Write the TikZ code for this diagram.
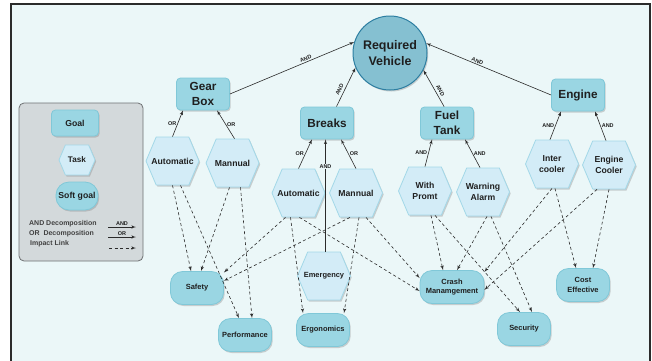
\documentclass[tikz,border=0pt]{standalone}
\usepackage{fontspec}
\setmainfont{Liberation Sans}
\usepackage{tikz}
\usetikzlibrary{arrows}
\usetikzlibrary{calc}
\usetikzlibrary{shapes.symbols}
\usetikzlibrary{shadows}

\definecolor{bg}{HTML}{EBF7F8}
\definecolor{frameline}{HTML}{2B2B2B}
\definecolor{goalfill}{HTML}{9AD6E3}
\definecolor{goalline}{HTML}{80C8D8}
\definecolor{taskfill}{HTML}{D3ECF7}
\definecolor{taskline}{HTML}{A3D8E8}
\definecolor{rvfill}{HTML}{85C0D1}
\definecolor{rvline}{HTML}{2D7EA1}
\definecolor{legfill}{HTML}{D3D9DB}
\definecolor{legline}{HTML}{6E7173}
\definecolor{txt}{HTML}{1F1F1F}
\definecolor{edge}{HTML}{2B2B2B}

\begin{document}
\begin{tikzpicture}[->,>=latex',x=1bp,y=-1bp]
		\tikzstyle{shade}=[drop shadow={shadow xshift=1.2bp,shadow yshift=-1.5bp,opacity=0.35}];
		\tikzstyle{goal}=[rectangle,rounded corners=4bp,draw=goalline,fill=goalfill,
			line width=0.8bp,minimum width=53bp,minimum height=32bp,inner sep=2bp,
			align=center,text=txt,font=\fontsize{11.8}{14.5}\selectfont\bfseries,shade];
		\tikzstyle{rvgoal}=[circle,draw=rvline,fill=rvfill,line width=1bp,
			minimum size=74bp,inner sep=0pt,align=center,text=txt,
			font=\fontsize{12.5}{16}\selectfont\bfseries,shade];
		\tikzstyle{task}=[signal,signal to=east and west,signal pointer angle=134,
			draw=taskline,fill=taskfill,line width=0.8bp,minimum width=53bp,
			minimum height=48bp,inner xsep=-8bp,inner ysep=1bp,align=center,text=txt,
			font=\fontsize{8.7}{10.3}\selectfont\bfseries,shade];
		\tikzstyle{soft}=[rectangle,rounded corners=12bp,draw=goalline,fill=goalfill,
			line width=0.8bp,minimum width=53bp,minimum height=33bp,inner sep=2bp,
			align=center,text=txt,font=\fontsize{7.5}{9.3}\selectfont\bfseries,shade];
		\tikzstyle{lbl}=[inner sep=1bp,text=txt,font=\fontsize{5.5}{6}\selectfont\bfseries];
		\tikzstyle{slbl}=[lbl,sloped,above,inner sep=2.5bp];
		\tikzstyle{legtext}=[anchor=west,inner sep=0pt,text=txt!85,
			font=\fontsize{7}{8}\selectfont\bfseries];
		\tikzstyle{link}=[edge,line width=0.6bp];
		\tikzstyle{impact}=[edge,line width=0.6bp,dash pattern=on 3bp off 2.5bp];

		\useasboundingbox (0,0) rectangle (652,360);
		\draw[-,line width=2.5bp,draw=frameline,fill=bg] (11,4) rectangle (650,372);

		% legend
		\draw[-,rounded corners=5bp,draw=legline,fill=legfill,line width=0.8bp] (19,103) rectangle (143,261);
		\node[goal,minimum width=47bp,minimum height=26bp,font=\fontsize{8.7}{10}\selectfont\bfseries](lgoal) at (75,123){Goal};
		\node[task,minimum width=36bp,minimum height=30bp,inner xsep=-5bp,font=\fontsize{8.2}{10}\selectfont\bfseries](ltask) at (77,160){Task};
		\node[soft,minimum width=42bp,minimum height=28bp,rounded corners=13bp,font=\fontsize{8.7}{10}\selectfont\bfseries](lsoft) at (77,196){Soft goal};
		\node[legtext](land) at (29,224){AND Decomposition};
		\node[legtext](lor) at (29,234){OR\ \ Decomposition};
		\node[legtext](limp) at (30,244){Impact Link};
		\coordinate (la1) at (108,227); \coordinate (la2) at (136,227);
		\coordinate (lo1) at (108,237); \coordinate (lo2) at (136,237);
		\coordinate (li1) at (109,248); \coordinate (li2) at (136,248);
		\draw[link](la1)--node[lbl,above]{AND}(la2);
		\draw[link](lo1)--node[lbl,above]{OR}(lo2);
		\draw[impact](li1)--(li2);

		% goals
		\node[rvgoal](rv) at (390,53){Required\\Vehicle};
		\node[goal](gb) at (203,94){Gear\\Box};
		\node[goal](br) at (327,123){Breaks};
		\node[goal](ft) at (447,123){Fuel\\Tank};
		\node[goal](en) at (578,95){Engine};

		% tasks
		\node[task](gba) at (172.5,161){Automatic};
		\node[task](gbm) at (232.5,163){Mannual};
		\node[task](bra) at (298.5,193){Automatic};
		\node[task](brm) at (356,193){Mannual};
		\node[task,font=\fontsize{7.5}{9}\selectfont\bfseries](em) at (324,276){Emergency};
		\node[task](wp) at (425,191){With\\Promt};
		\node[task](wa) at (483,192){Warning\\Alarm};
		\node[task](ic) at (552,164){Inter\\cooler};
		\node[task](ec) at (609,165){Engine\\Cooler};

		% soft goals
		\node[soft](sf) at (197,288){Safety};
		\node[soft](pf) at (245,335){Performance};
		\node[soft](er) at (323,330){Ergonomics};
		\node[soft,minimum width=64bp](cm) at (452,287){Crash\\Manamgement};
		\node[soft](sc) at (524,329){Security};
		\node[soft](ce) at (583,285){Cost\\Effective};

		% decompositions
		\draw[link](gb.east)--node[slbl,inner sep=1bp,pos=0.62]{AND}(rv.163);
		\draw[link](br.60)--node[slbl,pos=0.38]{AND}(rv.203);
		\draw[link](ft.100)--node[slbl,pos=0.38]{AND}(rv.333);
		\draw[link](en.west)--node[slbl,inner sep=1bp,pos=0.6]{AND}(rv.15);

		\draw[link](gba.north)--node[lbl,left]{OR}([xshift=-20bp]gb.south);
		\draw[link]([xshift=2bp]gbm.north)--node[lbl,right]{OR}([xshift=14bp]gb.south);
		\draw[link](bra.north)--node[lbl,left]{OR}([xshift=-15bp]br.south);
		\draw[link](brm.north)--node[lbl,right]{OR}([xshift=14bp]br.south);
		\draw[link]([xshift=1.5bp]em.north)--node[lbl,fill=bg,inner sep=0.5bp,pos=0.76]{AND}([xshift=1.5bp]em.north|-br.south);
		\draw[link](wp.north)--node[lbl,left]{AND}([xshift=-15bp]ft.south);
		\draw[link]([xshift=-3bp]wa.north)--node[lbl,right]{AND}([xshift=18bp]ft.south);
		\draw[link]([xshift=-2bp]ic.north)--node[lbl,left]{AND}([xshift=-17bp]en.south);
		\draw[link]([xshift=-3bp]ec.north)--node[lbl,right]{AND}([xshift=17bp]en.south);

		% impact links
		\draw[impact](gba.south)--([xshift=-6bp]sf.north);
		\draw[impact]([xshift=8bp]gba.south)--([xshift=-6bp]pf.north);
		\draw[impact]([xshift=-3bp]gbm.south)--([xshift=4bp]sf.north);
		\draw[impact]([xshift=8bp]gbm.south)--([xshift=7bp]pf.north);
		\draw[impact]([xshift=-13bp]bra.south)--(sf.30);
		\draw[impact]([xshift=-6bp]brm.south)--(sf.15);
		\draw[impact]([xshift=-8bp]bra.south)--([xshift=-20bp]er.north);
		\draw[impact]([xshift=1bp]bra.south)--([yshift=-4bp]cm.west);
		\draw[impact]([xshift=10bp]brm.south)--([yshift=9bp]cm.west);
		\draw[impact]([xshift=3bp]brm.south)--([xshift=21bp]er.north);
		\draw[impact]([xshift=6bp]wp.south)--([xshift=-9bp]cm.north);
		\draw[impact]([xshift=10bp]wp.south)--([xshift=-4bp]sc.north);
		\draw[impact]([xshift=4bp]wa.south)--([xshift=5bp]cm.north);
		\draw[impact]([xshift=8bp]wa.south)--([xshift=8bp]sc.north);
		\draw[impact](ic.south)--(cm.25);
		\draw[impact]([xshift=3bp]ic.south)--([xshift=-7bp]ce.north);
		\draw[impact]([xshift=-12bp]ec.south)--(cm.355);
		\draw[impact](ec.south)--([xshift=10bp]ce.north);
	\end{tikzpicture}
\end{document}
